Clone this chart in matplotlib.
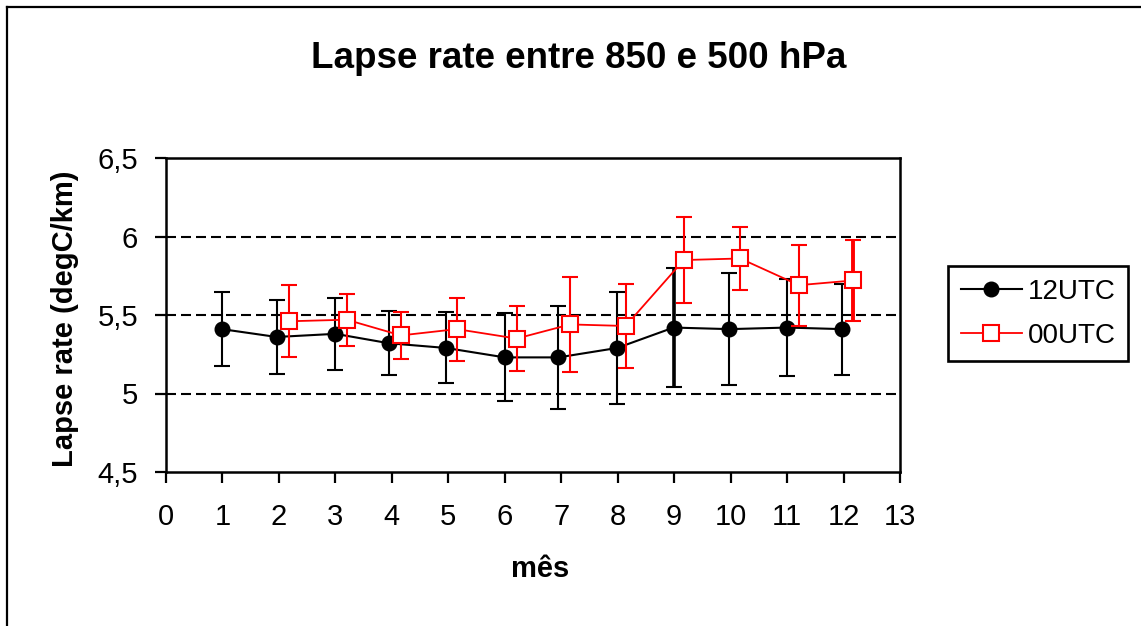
import matplotlib
matplotlib.use("Agg")
import matplotlib.pyplot as plt
from matplotlib.lines import Line2D

# monthly lapse rate 850-500 hPa (degC/km)
x_12 = [0.99, 1.96, 3.0, 3.95, 4.96, 6.0, 6.95, 7.99, 8.99, 9.98, 11.0, 11.98]
y_12 = [5.41, 5.36, 5.38, 5.32, 5.29, 5.23, 5.23, 5.29, 5.42, 5.41, 5.42, 5.41]
err_12 = [0.235, 0.236, 0.228, 0.205, 0.226, 0.28, 0.33, 0.357, 0.38, 0.357, 0.31, 0.29]

x_00 = [2.17, 3.2, 4.16, 5.15, 6.21, 7.16, 8.14, 9.17, 10.17, 11.21, 12.17]
y_00 = [5.46, 5.47, 5.37, 5.41, 5.35, 5.44, 5.43, 5.85, 5.86, 5.69, 5.72]
err_00 = [0.23, 0.166, 0.15, 0.2, 0.207, 0.30, 0.265, 0.273, 0.2, 0.258, 0.26]

yticks = [4.5, 5, 5.5, 6, 6.5]
ytick_labels = ["4,5", "5", "5,5", "6", "6,5"]
xticks = list(range(0, 14))

plt.rcParams["font.family"] = ["Liberation Sans", "DejaVu Sans"]

W, H = 1141, 626
fig = plt.figure(figsize=(W / 100, H / 100), dpi=100)
ax = fig.add_axes([166 / W, 1 - 472 / H, (900 - 166) / W, (472 - 158) / H])

# grid lines at 5 / 5,5 / 6
for yv in [5, 5.5, 6]:
    ax.axhline(yv, color="black", lw=1.5, ls=(0, (4.8, 2.4)), zorder=1)

# 12UTC
eb12 = ax.errorbar(x_12, y_12, yerr=err_12, fmt="none", ecolor="black",
                   elinewidth=1.5, capsize=5.5, capthick=1.5, zorder=2)
ax.plot(x_12, y_12, color="black", lw=1.5, marker="o", ms=10.5,
        mfc="black", mec="black", label="12UTC", zorder=3)

# 00UTC on top
eb00 = ax.errorbar(x_00, y_00, yerr=err_00, fmt="none", ecolor="red",
                   elinewidth=1.5, capsize=6, capthick=1.5, zorder=4)
ax.plot(x_00, y_00, color="red", lw=1.3, marker="s", ms=11,
        mfc="white", mec="red", mew=1.5, label="00UTC", zorder=5)

# a couple of bars look heavier in the original
lw12 = [1.5] * len(x_12)
lw12[8] = 2.6
eb12[2][0].set_linewidths(lw12)
lw00 = [1.5] * len(x_00)
lw00[10] = 2.8
eb00[2][0].set_linewidths(lw00)

ax.set_xlim(0, 13)
ax.set_ylim(4.5, 6.5)
ax.set_xticks(xticks)
ax.set_xticklabels([str(v) for v in xticks])
ax.set_yticks(yticks)
ax.set_yticklabels(ytick_labels)
ax.tick_params(axis="both", direction="out", length=8, width=1.6,
               labelsize=21, color="black")
ax.tick_params(axis="x", pad=14)
ax.tick_params(axis="y", pad=12)
for sp in ax.spines.values():
    sp.set_linewidth(1.8)

fig.text(579 / W, 1 - 68 / H, "Lapse rate entre 850 e 500 hPa",
         fontsize=26.5, fontweight="bold", ha="center", va="baseline")
fig.text(65 / W, 1 - 319 / H, "Lapse rate (degC/km)", fontsize=21,
         fontweight="bold", rotation=90, ha="center", va="center")
fig.text(540 / W, 1 - 577 / H, "mês", fontsize=21, fontweight="bold",
         ha="center", va="baseline")

leg = ax.legend(loc="upper left", bbox_to_anchor=(948 / W, 1 - 266 / H),
                bbox_transform=fig.transFigure, borderaxespad=0,
                fontsize=20, frameon=True, fancybox=False, framealpha=1,
                edgecolor="black", handlelength=2.2, handletextpad=0.22,
                labelspacing=0.65, borderpad=0.45)
leg.get_frame().set_linewidth(1.9)

# outer chart-area frame (only left and top edges visible)
fig.add_artist(Line2D([7 / W, 7 / W], [0, 1 - 7 / H], color="black", lw=1.6,
                      transform=fig.transFigure))
fig.add_artist(Line2D([7 / W, 1], [1 - 7 / H, 1 - 7 / H], color="black", lw=1.6,
                      transform=fig.transFigure))

fig.savefig("out.png", dpi=100)
